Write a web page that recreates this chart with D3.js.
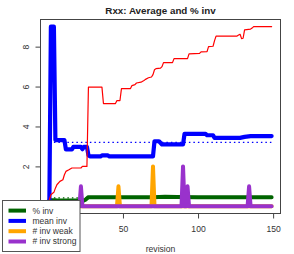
<!DOCTYPE html>
<html><head><meta charset="utf-8">
<script src="https://cdn.jsdelivr.net/npm/d3@7/dist/d3.min.js"></script>
<style>body{margin:0;background:#fff}svg{display:block;font-family:"Liberation Sans",Arial,Helvetica,sans-serif}</style>
</head><body><svg id="c" width="294" height="254"></svg>
<script>
// ---- data (revision, value) ----
const titleText = "Rxx: Average and % inv";
const xLabel = "revision";
const xTicks = [0, 50, 100, 150];
const yTicks = [0, 2, 4, 6, 8];
const legendLabels = ["% inv", "mean inv", "# inv weak", "# inv strong"];
const legendColors = ["#006400", "#0000ff", "#ffa500", "#9932cc"];

const redSeries = [[1,0.33],[2,0.58],[4,0.7],[5,0.91],[6,1.08],[8,1.25],[10,1.33],[11,1.58],[12,1.75],[14,1.83],[16,1.92],[22,1.92],[23,2.0],[26,2.0],[27,5.97],[36,5.97],[37,5.15],[45,5.15],[46,5.3],[48,5.3],[49,5.9],[55,5.9],[56,6.05],[58,6.1],[59,6.18],[62,6.22],[64,6.3],[65,6.36],[67,6.44],[69,6.48],[70,6.6],[71,6.84],[72,6.9],[75,6.92],[76,7.0],[77,7.2],[83,7.2],[84,7.4],[93,7.4],[94,7.64],[101,7.66],[102,7.74],[106,7.75],[107,8.0],[110,8.02],[111,8.3],[112,8.53],[126,8.53],[127,8.58],[128,8.62],[129,8.4],[130,8.42],[131,8.84],[135,8.88],[136,8.93],[137,9.0],[149,9.0]];
const meanInv = [[1,0.33],[2,9.0],[4,9.0],[5,3.32],[11,3.32],[12,2.85],[16,2.85],[17,2.98],[22,2.98],[23,2.86],[24,2.98],[26,2.98],[27,2.56],[28,2.5],[35,2.5],[36,2.55],[40,2.55],[41,2.5],[70,2.5],[71,3.26],[74,3.26],[76,3.1],[90,3.1],[91,3.63],[105,3.63],[106,3.56],[110,3.56],[111,3.43],[128,3.43],[131,3.48],[135,3.52],[149,3.52]];
const meanInvAvg = [[1,3.2],[149,3.2]];
const pctInv = [[1,0.3],[5,0.3],[6,0.29],[24,0.29],[25,0.33],[27,0.46],[60,0.45],[70,0.46],[78,0.48],[86,0.47],[100,0.46],[149,0.45]];
const pctInvAvg = [[1,0.42],[149,0.42]];
const invWeak = [[1,0],[46,0],[47,1],[48,0],[69,0],[70,2],[71,0],[149,0]];
const invStrong = [[1,0],[21,0],[22,1],[23,0],[89,0],[90,2],[91,0],[92,0],[93,1],[94,0],[133,0],[134,1],[135,0],[149,0]];

// ---- chart ----
const svg = d3.select("#c");
const x = d3.scaleLinear().domain([1 - 148*0.04, 149 + 148*0.04]).range([40.5, 280.5]);
const y = d3.scaleLinear().domain([-0.36, 9.36]).range([213.5, 19.5]);
const line = d3.line().x(d => x(d[0])).y(d => y(d[1]));

const gPlot = svg.append("g");
function draw(data, color, w, dash) {
  const p = gPlot.append("path").datum(data).attr("d", line)
    .attr("fill", "none").attr("stroke", color).attr("stroke-width", w)
    .attr("stroke-linejoin", "round").attr("stroke-linecap", dash ? "butt" : "round");
  if (dash) p.attr("stroke-dasharray", dash);
}
draw(pctInvAvg, "#006400", 1.3, "1.5 3");
draw(pctInv, "#006400", 4);
draw(meanInvAvg, "#0000ff", 1.3, "1.5 3");
draw(meanInv, "#0000ff", 4.2);
draw(invWeak, "#ffa500", 4);
draw(invStrong, "#9932cc", 4);
draw(redSeries, "#ff0000", 1.2);

// box
svg.append("rect").attr("x", 40.5).attr("y", 19.5).attr("width", 240).attr("height", 194)
  .attr("fill", "none").attr("stroke", "#444").attr("stroke-width", 1);

// label format: the 0 labels sit under the legend in the reference and are not visible
const fmt = d => d === 0 ? "" : d3.format("d")(d);

// x axis
const xa = svg.append("g").attr("transform", "translate(0,213.5)")
  .call(d3.axisBottom(x).tickValues(xTicks).tickSize(5).tickPadding(7).tickFormat(fmt));
xa.select(".domain").attr("d", `M${x(0)},0H${x(150)}`).attr("stroke", "#444");
xa.selectAll(".tick line").attr("stroke", "#444");
xa.selectAll("text").attr("font-size", 8.6).attr("fill", "#333").attr("font-family", "Liberation Sans, Arial, sans-serif");
xa.selectAll("text").filter(function(){ return this.textContent === ""; }).remove();

// y axis
const ya = svg.append("g").attr("transform", "translate(40.5,0)")
  .call(d3.axisLeft(y).tickValues(yTicks).tickSize(5).tickFormat(fmt));
ya.select(".domain").attr("d", `M0,${y(0)}V${y(8)}`).attr("stroke", "#444");
ya.selectAll(".tick line").attr("stroke", "#444");
ya.selectAll("text").attr("font-size", 8.6).attr("fill", "#333").attr("font-family", "Liberation Sans, Arial, sans-serif")
  .attr("text-anchor", "middle").attr("x", 0).attr("dy", 0)
  .attr("transform", "translate(-13.5,0) rotate(-90)").attr("dominant-baseline", "middle");
ya.selectAll("text").filter(function(){ return this.textContent === ""; }).remove();

// title and axis label
svg.append("text").attr("x", 160.5).attr("y", 13.5).attr("text-anchor", "middle")
  .attr("font-size", 9.8).attr("font-weight", "bold").attr("fill", "#222").text(titleText);
svg.append("text").attr("x", 160.5).attr("y", 252).attr("text-anchor", "middle")
  .attr("font-size", 8.6).attr("fill", "#333").text(xLabel);

// legend
const lg = svg.append("g");
lg.append("rect").attr("x", 2.5).attr("y", 200.5).attr("width", 77.5).attr("height", 51)
  .attr("fill", "#fff").attr("stroke", "#555").attr("stroke-width", 1);
legendLabels.forEach((lab, i) => {
  const cy = 210.6 + i * 10.3;
  lg.append("line").attr("x1", 8.5).attr("x2", 26).attr("y1", cy).attr("y2", cy)
    .attr("stroke", legendColors[i]).attr("stroke-width", 4);
  lg.append("text").attr("x", 32.5).attr("y", cy).attr("dy", "0.35em")
    .attr("font-size", 8.5).attr("fill", "#333").text(lab);
});
</script></body></html>
